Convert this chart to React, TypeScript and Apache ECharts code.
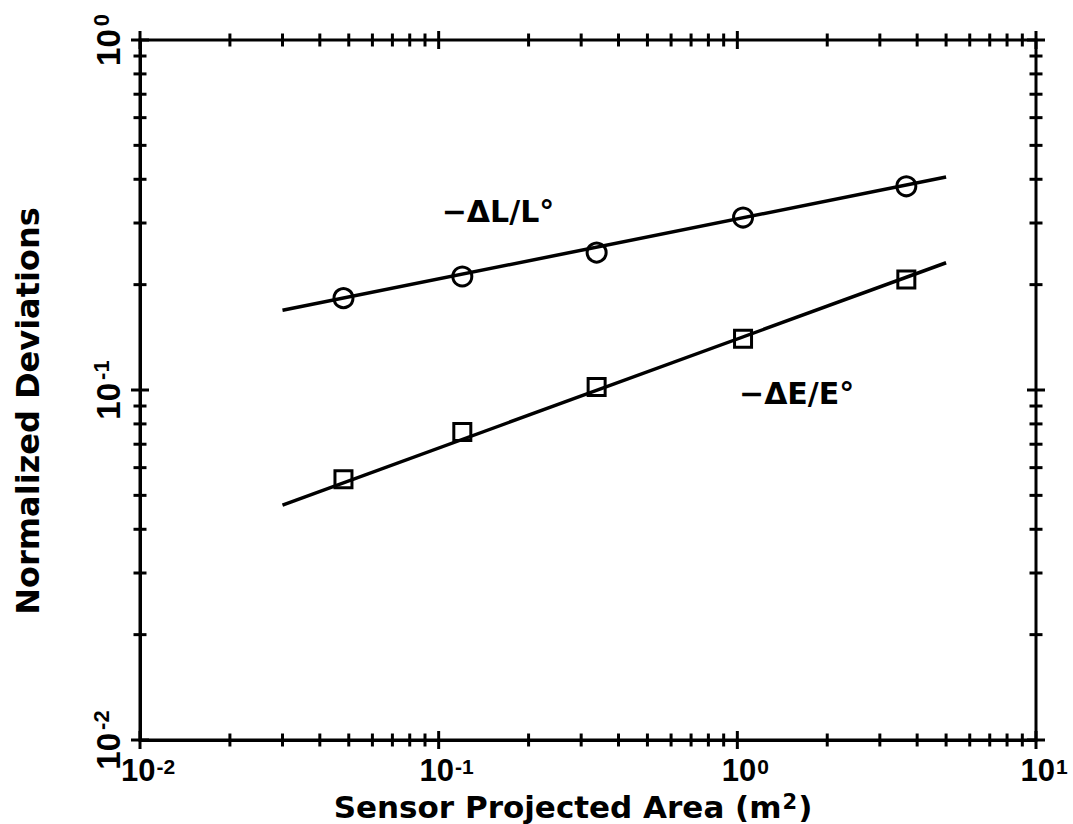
import React, { useEffect, useRef } from "react";
import * as echarts from "echarts";

// Data (log-log)
const areaValues = [0.048, 0.12, 0.338, 1.045, 3.68];
const lengthDeviation = [0.183, 0.211, 0.247, 0.311, 0.382];
const energyDeviation = [0.0556, 0.0758, 0.102, 0.14, 0.207];
const fitX = [0.03, 5.0];
const lengthFit = [0.169, 0.406];
const energyFit = [0.0469, 0.231];

// Annotation labels (data coordinates)
const lengthLabel = { text: "−ΔL/L°", at: [0.158, 0.323] };
const energyLabel = { text: "−ΔE/E°", at: [1.58, 0.098] };

// Axis tick positions
const xDecades = [0.01, 0.1, 1, 10];
const yDecades = [0.01, 0.1, 1];
const minorMultipliers = [2, 3, 4, 5, 6, 7, 8, 9];

const FONT = "DejaVu Sans";
const NUMFONT = "Liberation Sans";

function minorTicks(decades: number[]): number[] {
  const out: number[] = [];
  for (let i = 0; i < decades.length - 1; i++) {
    for (const m of minorMultipliers) out.push(+(decades[i] * m).toPrecision(3));
  }
  return out;
}

function supLabel(v: number) {
  const e = Math.round(Math.log10(v));
  return `{b|10}{s|${e}}`;
}

const xRich = {
  b: { fontFamily: NUMFONT, fontWeight: "bold", fontSize: 31, color: "#000", lineHeight: 28, padding: [0, 0, 0, 16] },
  s: { fontFamily: NUMFONT, fontWeight: "bold", fontSize: 21, color: "#000", verticalAlign: "top", lineHeight: 10, padding: [0, 0, 12, 1] },
};
const yRich = {
  b: { fontFamily: NUMFONT, fontWeight: "bold", fontSize: 33, color: "#000", lineHeight: 36 },
  s: { fontFamily: NUMFONT, fontWeight: "bold", fontSize: 22, color: "#000", verticalAlign: "top", lineHeight: 16, padding: [0, 0, 16, 3] },
};

export default function App() {
  const ref = useRef<HTMLDivElement>(null);
  useEffect(() => {
    if (!ref.current) return;
    const chart = echarts.init(ref.current, undefined, { renderer: "svg" });
    const xMin = xDecades[0];
    const xMax = xDecades[xDecades.length - 1];
    const yMin = yDecades[0];
    const yMax = yDecades[yDecades.length - 1];
    const xMinor = minorTicks(xDecades);
    const yMinor = minorTicks(yDecades);

    const tickSeries = (data: number[][], size: number[]) => ({
      type: "scatter",
      data,
      symbol: "rect",
      symbolSize: size,
      clip: false,
      silent: true,
      z: 5,
      itemStyle: { color: "#000", opacity: 1 },
    });

    const labelSeries = (l: { text: string; at: number[] }) => ({
      type: "scatter",
      data: [l.at],
      symbol: "circle",
      symbolSize: 1,
      silent: true,
      itemStyle: { color: "rgba(0,0,0,0)", opacity: 1 },
      label: {
        show: true,
        position: "inside",
        formatter: l.text,
        fontFamily: FONT,
        fontWeight: "bold",
        fontSize: 30,
        color: "#000",
      },
    });

    chart.setOption({
      animation: false,
      backgroundColor: "#fff",
      grid: {
        left: 140,
        right: 37,
        top: 40,
        bottom: 84,
        containLabel: false,
        outerBoundsMode: "none",
        show: true,
        borderColor: "#000",
        borderWidth: 3,
      },
      xAxis: {
        type: "log",
        logBase: 10,
        min: xMin,
        max: xMax,
        name: "{t|Sensor Projected Area (m}{s|2}{e|)}",
        nameLocation: "middle",
        nameGap: 51,
        nameMoveOverlap: false,
        nameTextStyle: {
          rich: {
            t: { fontFamily: FONT, fontWeight: "bold", fontSize: 31, color: "#000", lineHeight: 31 },
            e: { fontFamily: FONT, fontWeight: "bold", fontSize: 31, color: "#000", lineHeight: 31, padding: [0, 30, 0, 0] },
            s: { fontFamily: FONT, fontWeight: "bold", fontSize: 21, color: "#000", verticalAlign: "top", lineHeight: 14, padding: [0, 1, 12, 1] },
          },
        },
        axisLine: { show: true, lineStyle: { color: "#000", width: 3 } },
        axisTick: { show: false },
        splitLine: { show: false },
        axisLabel: { formatter: supLabel, rich: xRich, margin: 16 },
      },
      yAxis: {
        type: "log",
        logBase: 10,
        min: yMin,
        max: yMax,
        name: "Normalized Deviations",
        nameLocation: "middle",
        nameGap: 96,
        nameMoveOverlap: false,
        nameTextStyle: {
          fontFamily: FONT,
          fontWeight: "bold",
          fontSize: 32,
          color: "#000",
          padding: [0, 42, 0, 0],
        },
        axisLine: { show: true, lineStyle: { color: "#000", width: 3 } },
        axisTick: { show: false },
        splitLine: { show: false },
        axisLabel: { formatter: supLabel, rich: yRich, rotate: 90, margin: 14 },
      },
      series: [
        {
          type: "line",
          data: fitX.map((x, i) => [x, lengthFit[i]]),
          symbol: "none",
          lineStyle: { color: "#000", width: 3.5 },
        },
        {
          type: "line",
          data: fitX.map((x, i) => [x, energyFit[i]]),
          symbol: "none",
          lineStyle: { color: "#000", width: 3.5 },
        },
        {
          type: "scatter",
          data: areaValues.map((x, i) => [x, lengthDeviation[i]]),
          symbol: "circle",
          symbolSize: 19,
          z: 6,
          itemStyle: { color: "rgba(255,255,255,0)", borderColor: "#000", borderWidth: 3, opacity: 1 },
        },
        {
          type: "scatter",
          data: areaValues.map((x, i) => [x, energyDeviation[i]]),
          symbol: "rect",
          symbolSize: 17,
          z: 6,
          itemStyle: { color: "rgba(255,255,255,0)", borderColor: "#000", borderWidth: 3, opacity: 1 },
        },
        labelSeries(lengthLabel),
        labelSeries(energyLabel),
        // ticks: bottom & top
        tickSeries(xMinor.map((x) => [x, yMin]), [3, 13]),
        tickSeries(xMinor.map((x) => [x, yMax]), [3, 13]),
        tickSeries(xDecades.map((x) => [x, yMin]), [3, 18]),
        tickSeries(xDecades.map((x) => [x, yMax]), [3, 18]),
        // ticks: left & right
        tickSeries(yMinor.map((y) => [xMin, y]), [13, 3]),
        tickSeries(yMinor.map((y) => [xMax, y]), [13, 3]),
        tickSeries(yDecades.map((y) => [xMin, y]), [18, 3]),
        tickSeries(yDecades.map((y) => [xMax, y]), [18, 3]),
      ],
    });
    return () => chart.dispose();
  }, []);
  return (
    <div
      ref={ref}
      style={{ position: "fixed", left: 0, top: 0, width: 1073, height: 824, background: "#fff" }}
    />
  );
}
